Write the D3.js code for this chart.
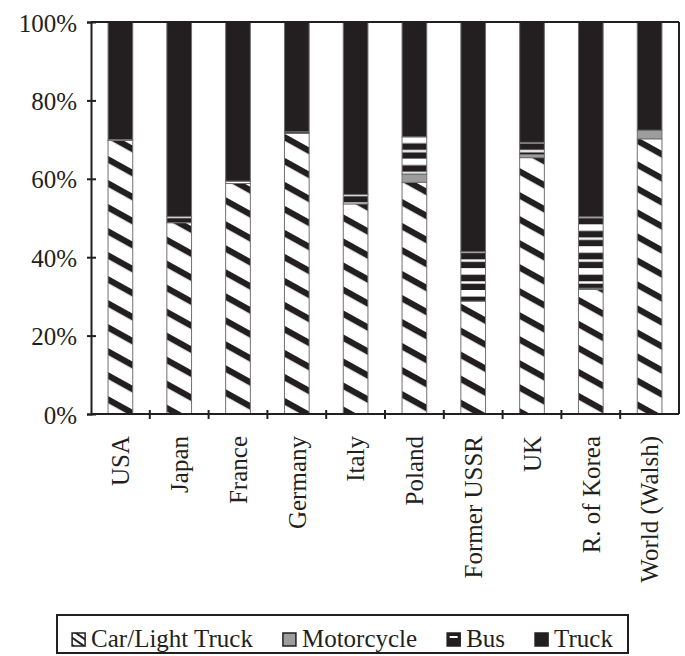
<!DOCTYPE html>
<html>
<head>
<meta charset="utf-8">
<script src="https://cdn.jsdelivr.net/npm/d3@7/dist/d3.min.js"></script>
<style>
  html, body { margin: 0; padding: 0; background: #fff; }
  svg text { font-family: "Liberation Serif", "Times New Roman", serif !important; fill: #231f20; }
</style>
</head>
<body>
<svg id="chart" width="685" height="656"></svg>
<script>
// ---- data ----
const countries = ["USA", "Japan", "France", "Germany", "Italy", "Poland", "Former USSR", "UK", "R. of Korea", "World (Walsh)"];
const carLightTruck = [69.8, 48.8, 58.8, 71.6, 53.6, 59.1, 28.8, 65.4, 31.8, 70.2];
const motorcycle    = [0,    0,    0,    0,    0,    2.1,  0,    0.8,  0.3,  2.2];
const bus           = [0.2,  1.6,  0.6,  0.4,  2.4,  9.5,  12.6, 3.1,  18.2, 0];
const truck         = [30.0, 49.6, 40.6, 28.0, 44.0, 29.3, 58.6, 30.7, 49.7, 27.6];
const seriesNames = ["Car/Light Truck", "Motorcycle", "Bus", "Truck"];
const yTicks = [0, 20, 40, 60, 80, 100];

// ---- layout ----
const W = 685, H = 656;
const margin = { left: 91, top: 22, right: 6, bottom: 242 };
const x0 = margin.left, x1 = W - margin.right;
const yTop = margin.top, yBot = H - margin.bottom;
const INK = "#231f20";
const GREY = "#9d9d9d";
const FONT = 25;
const FAMILY = "'Liberation Serif', 'Times New Roman', serif";

const svg = d3.select("#chart");
const defs = svg.append("defs");

// hatch pattern for Car/Light Truck (diagonal stripes, descending left->right)
const hatch = defs.append("pattern")
  .attr("id", "hatch").attr("patternUnits", "userSpaceOnUse")
  .attr("width", 12).attr("height", 21)
  .attr("patternTransform", "rotate(29)");
hatch.append("rect").attr("width", 12).attr("height", 21).attr("fill", "#fff");
hatch.append("rect").attr("y", 0).attr("width", 12).attr("height", 6.2).attr("fill", INK);

// horizontal stripe pattern for Bus
const busP = defs.append("pattern")
  .attr("id", "busStripes").attr("patternUnits", "userSpaceOnUse")
  .attr("x", 0).attr("y", 5.3).attr("width", 10).attr("height", 21.9);
busP.append("rect").attr("width", 10).attr("height", 21.9).attr("fill", INK);
busP.append("rect").attr("y", 0).attr("width", 10).attr("height", 6.6).attr("fill", "#fff");
busP.append("rect").attr("y", 13.2).attr("width", 10).attr("height", 2.4).attr("fill", "#fff");

// legend hatch (finer)
const lh = defs.append("pattern")
  .attr("id", "hatchSmall").attr("patternUnits", "userSpaceOnUse")
  .attr("width", 6).attr("height", 6)
  .attr("patternTransform", "rotate(35)");
lh.append("rect").attr("width", 6).attr("height", 6).attr("fill", "#fff");
lh.append("rect").attr("width", 6).attr("height", 2).attr("fill", INK);

const fills = {
  "Car/Light Truck": "url(#hatch)",
  "Motorcycle": GREY,
  "Bus": "url(#busStripes)",
  "Truck": INK
};

// ---- scales ----
const x = d3.scaleBand().domain(countries).range([x0, x1]).paddingInner(0.58).paddingOuter(0.29);
const y = d3.scaleLinear().domain([0, 100]).range([yBot, yTop]);

// ---- data table & stack ----
const table = countries.map((c, i) => ({
  country: c,
  "Car/Light Truck": carLightTruck[i],
  "Motorcycle": motorcycle[i],
  "Bus": bus[i],
  "Truck": truck[i]
}));
const stacked = d3.stack().keys(seriesNames)(table);

// ---- bars ----
svg.append("g").selectAll("g")
  .data(stacked)
  .join("g")
  .attr("fill", d => fills[d.key])
  .selectAll("rect")
  .data(d => d.filter(p => p[1] - p[0] > 0))
  .join("rect")
  .attr("x", d => x(d.data.country))
  .attr("width", x.bandwidth())
  .attr("y", d => y(Math.min(100, d[1])))
  .attr("height", d => y(d[0]) - y(Math.min(100, d[1])))
  .attr("stroke", "#707070")
  .attr("stroke-width", 1);

// ---- frame (top & right) ----
svg.append("line").attr("x1", x0).attr("x2", x1).attr("y1", yTop).attr("y2", yTop)
  .attr("stroke", INK).attr("stroke-width", 2);
svg.append("line").attr("x1", x1).attr("x2", x1).attr("y1", yTop).attr("y2", yBot)
  .attr("stroke", INK).attr("stroke-width", 2);

// ---- y axis ----
const yAxis = svg.append("g").attr("transform", `translate(${x0},0)`)
  .call(d3.axisLeft(y).tickValues(yTicks).tickSize(4).tickPadding(10).tickFormat(d => d + "%"));
yAxis.attr("font-family", null).attr("font-size", null);
yAxis.select(".domain").attr("stroke", INK).attr("stroke-width", 2);
yAxis.selectAll(".tick line").attr("x1", 5).attr("x2", -4).attr("stroke", INK).attr("stroke-width", 2);
yAxis.selectAll(".tick text")
  .style("font-family", FAMILY).style("font-size", FONT + "px")
  .attr("fill", INK).attr("dy", "0.36em");

// ---- x axis ----
const xAxisG = svg.append("g");
xAxisG.append("line").attr("x1", x0).attr("x2", x1).attr("y1", yBot).attr("y2", yBot)
  .attr("stroke", INK).attr("stroke-width", 2);
const boundaries = d3.range(countries.length + 1).map(i => x0 + i * x.step());
xAxisG.selectAll("line.tick").data(boundaries.slice(1, -1)).join("line")
  .attr("class", "tick")
  .attr("x1", d => d).attr("x2", d => d)
  .attr("y1", yBot - 4).attr("y2", yBot + 5)
  .attr("stroke", INK).attr("stroke-width", 2);
xAxisG.selectAll("text").data(countries).join("text")
  .attr("transform", d => `translate(${x(d) + x.bandwidth() / 2},${yBot + 22}) rotate(-90)`)
  .attr("text-anchor", "end")
  .attr("dy", "0.35em")
  .style("font-family", FAMILY).style("font-size", FONT + "px")
  .text(d => d);

// ---- legend ----
const lgTop = 615, lgH = 38, lgLeft = 57, lgRight = 628;
svg.append("rect").attr("x", lgLeft).attr("y", lgTop).attr("width", lgRight - lgLeft).attr("height", lgH)
  .attr("fill", "#fff").attr("stroke", INK).attr("stroke-width", 2);

const mSize = 13, mGap = 6, itemGap = 30;
const lg = svg.append("g");
const items = lg.selectAll("g").data(seriesNames).join("g");
items.append("text")
  .style("font-family", FAMILY).style("font-size", FONT + "px")
  .attr("y", lgTop + 32)
  .text(d => d);
// measure & place
let widths = [];
items.select("text").each(function () { widths.push(this.getComputedTextLength()); });
const total = d3.sum(widths) + seriesNames.length * (mSize + mGap) + (seriesNames.length - 1) * itemGap;
let cx = (lgLeft + lgRight) / 2 - total / 2;
items.each(function (d, i) {
  const g = d3.select(this);
  const mx = cx;
  const my = lgTop + 18;
  if (d === "Car/Light Truck") {
    g.append("rect").attr("x", mx).attr("y", my).attr("width", mSize).attr("height", mSize)
      .attr("fill", "url(#hatchSmall)").attr("stroke", INK).attr("stroke-width", 1.5);
  } else if (d === "Bus") {
    g.append("rect").attr("x", mx).attr("y", my).attr("width", mSize).attr("height", mSize)
      .attr("fill", INK).attr("stroke", INK).attr("stroke-width", 1.5);
    g.append("rect").attr("x", mx + 2.5).attr("y", my + 3).attr("width", mSize - 5).attr("height", 2)
      .attr("fill", "#fff");
  } else {
    g.append("rect").attr("x", mx).attr("y", my).attr("width", mSize).attr("height", mSize)
      .attr("fill", fills[d]).attr("stroke", INK).attr("stroke-width", 1.5);
  }
  g.select("text").attr("x", mx + mSize + mGap);
  cx += mSize + mGap + widths[i] + itemGap;
});
</script>
</body>
</html>
